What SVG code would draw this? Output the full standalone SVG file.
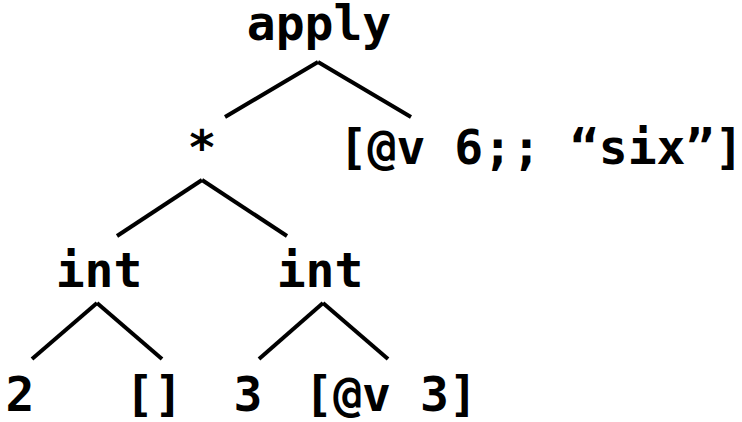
<svg xmlns="http://www.w3.org/2000/svg" width="742" height="422" viewBox="0 0 742 422">
<style>
.t{font-family:"DejaVu Sans Mono","Liberation Mono",monospace;font-weight:bold;font-size:48px;fill:#000;text-anchor:middle}
.e{stroke:#000;stroke-width:4;fill:none}
</style>
<rect width="742" height="422" fill="#fff"/>
<g id="connectors">
<line class="e" x1="318" y1="62" x2="225" y2="117"/>
<line class="e" x1="318" y1="62" x2="411" y2="117"/>
<line class="e" x1="202" y1="180" x2="117" y2="236"/>
<line class="e" x1="202" y1="180" x2="287" y2="236"/>
<line class="e" x1="97" y1="303" x2="32" y2="359"/>
<line class="e" x1="97" y1="303" x2="162" y2="359"/>
<line class="e" x1="323" y1="303" x2="259" y2="359"/>
<line class="e" x1="323" y1="303" x2="388" y2="359"/>
</g>
<g id="n-apply"><text class="t" x="319" y="40">apply</text></g>
<g id="n-mul"><text class="t" x="202" y="164">*</text></g>
<g id="n-v6"><text class="t" x="541" y="164">[@v 6;; “six”]</text></g>
<g id="n-int1"><text class="t" x="99" y="287">int</text></g>
<g id="n-int2"><text class="t" x="320" y="287">int</text></g>
<g id="n-2"><text class="t" x="20" y="411">2</text></g>
<g id="n-nil"><text class="t" x="154" y="411">[]</text></g>
<g id="n-3"><text class="t" x="248" y="411">3</text></g>
<g id="n-v3"><text class="t" x="391" y="411">[@v 3]</text></g>
</svg>
